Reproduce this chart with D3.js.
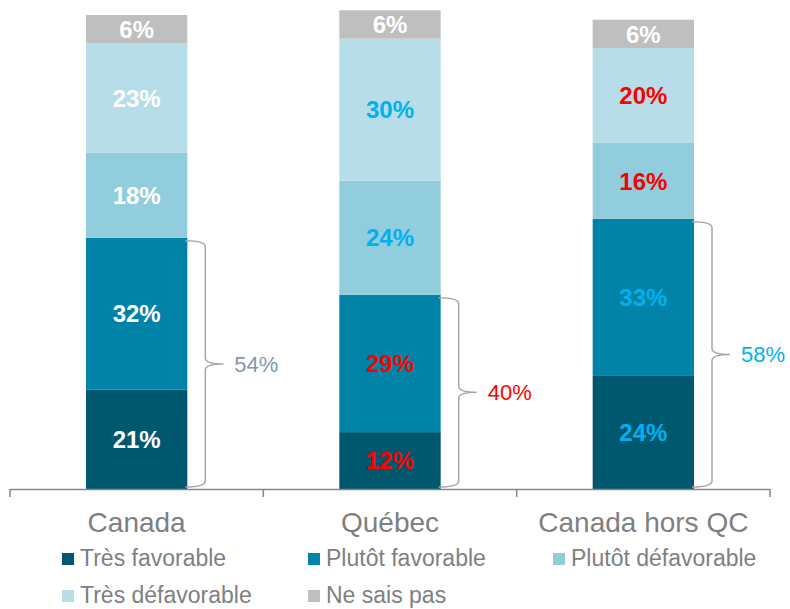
<!DOCTYPE html>
<html>
<head>
<meta charset="utf-8">
<script src="https://cdn.jsdelivr.net/npm/d3@7"></script>
<style>
  body { margin: 0; background: #fff; }
  text { font-family: "Liberation Sans", Arial, sans-serif; }
</style>
</head>
<body>
<div id="chart"></div>
<script>
// Data
var categories = ["Canada", "Québec", "Canada hors QC"];
var seriesNames = ["Très favorable", "Plutôt favorable", "Plutôt défavorable", "Très défavorable", "Ne sais pas"];
var seriesColors = ["#00586f", "#0083a6", "#92cddd", "#b7dee8", "#bfbfbf"];
var tresFavorable = [21, 12, 24];
var plutotFavorable = [32, 29, 33];
var plutotDefavorable = [18, 24, 16];
var tresDefavorable = [23, 30, 20];
var neSaisPas = [6, 6, 6];
var netFavorable = [54, 40, 58];
var netColors = ["#8497b0", "#ff0000", "#00b0f0"];
// label colours per category, per series
var labelColors = [
  ["#fff", "#fff", "#fff", "#fff", "#fff"],
  ["#ff0000", "#ff0000", "#00b0f0", "#00b0f0", "#fff"],
  ["#00b0f0", "#00b0f0", "#ff0000", "#ff0000", "#fff"]
];

var W = 790, H = 609;
var svg = d3.select("#chart").append("svg")
  .attr("width", W)
  .attr("height", H);

var x = d3.scaleBand()
  .domain(categories)
  .range([10, 770])
  .paddingInner(0.6)
  .paddingOuter(0.3);

var y = d3.scaleLinear()
  .domain([0, 100])
  .range([489, 15]);

// Build stacked rows
var rows = categories.map(function (c, i) {
  return {
    cat: c,
    "Très favorable": tresFavorable[i],
    "Plutôt favorable": plutotFavorable[i],
    "Plutôt défavorable": plutotDefavorable[i],
    "Très défavorable": tresDefavorable[i],
    "Ne sais pas": neSaisPas[i]
  };
});
var stacked = d3.stack().keys(seriesNames)(rows);

var layer = svg.append("g").selectAll("g")
  .data(stacked)
  .enter().append("g")
  .attr("fill", function (d, i) { return seriesColors[i]; });

layer.selectAll("rect")
  .data(function (d) { return d; })
  .enter().append("rect")
  .attr("x", function (d) { return x(d.data.cat); })
  .attr("y", function (d) { return y(d[1]); })
  .attr("width", x.bandwidth())
  .attr("height", function (d) { return y(d[0]) - y(d[1]); });

// Segment labels
stacked.forEach(function (s, si) {
  svg.append("g").selectAll("text")
    .data(s)
    .enter().append("text")
    .attr("x", function (d) { return x(d.data.cat) + x.bandwidth() / 2; })
    .attr("y", function (d) { return (y(d[0]) + y(d[1])) / 2; })
    .attr("dy", "0.36em")
    .attr("text-anchor", "middle")
    .style("font-size", "24px")
    .style("font-weight", "bold")
    .style("fill", function (d, ci) { return labelColors[ci][si]; })
    .text(function (d) { return (d[1] - d[0]) + "%"; });
});

// Axis line with tick marks at band boundaries
var step = x.step();
var edges = d3.range(categories.length + 1).map(function (i) { return 10 + i * step; });
svg.append("line")
  .attr("x1", 10).attr("x2", 770)
  .attr("y1", 489.5).attr("y2", 489.5)
  .style("stroke", "#868686")
  .style("stroke-width", 1.5);
svg.append("g").selectAll("line")
  .data(edges)
  .enter().append("line")
  .attr("x1", function (d) { return d; })
  .attr("x2", function (d) { return d; })
  .attr("y1", 489).attr("y2", 497)
  .style("stroke", "#868686")
  .style("stroke-width", 1.5);

// Category labels
svg.append("g").selectAll("text")
  .data(categories)
  .enter().append("text")
  .attr("x", function (d) { return x(d) + x.bandwidth() / 2; })
  .attr("y", 532)
  .attr("text-anchor", "middle")
  .style("font-size", "28px")
  .style("fill", "#7f7f7f")
  .text(function (d) { return d; });

// Curly braces for favourable total
function bracePath(x0, top, bottom, w, tip) {
  var xm = x0 + w;
  var mid = (top + bottom) / 2;
  var r = 6;
  return "M" + x0 + "," + top +
    " Q" + xm + "," + top + " " + xm + "," + (top + r) +
    " L" + xm + "," + (mid - r) +
    " Q" + xm + "," + mid + " " + (xm + tip) + "," + mid +
    " Q" + xm + "," + mid + " " + xm + "," + (mid + r) +
    " L" + xm + "," + (bottom - r) +
    " Q" + xm + "," + bottom + " " + x0 + "," + bottom;
}

categories.forEach(function (c, i) {
  var x0 = x(c) + x.bandwidth();
  var top = y(tresFavorable[i] + plutotFavorable[i]) + 3;
  var bottom = y(0) - 2;
  var mid = (top + bottom) / 2;
  svg.append("path")
    .attr("d", bracePath(x0 - 2, top, bottom, 20, 18))
    .style("fill", "none")
    .style("stroke", "#a6a6a6")
    .style("stroke-width", 1.5);
  svg.append("text")
    .attr("x", x0 + 47)
    .attr("y", mid)
    .attr("dy", "0.36em")
    .style("font-size", "22px")
    .style("fill", netColors[i])
    .text(netFavorable[i] + "%");
});

// Legend
var legendPos = [[62, 566], [308, 566], [553, 566], [62, 603], [308, 603]];
var legend = svg.append("g").selectAll("g")
  .data(seriesNames)
  .enter().append("g")
  .attr("transform", function (d, i) { return "translate(" + legendPos[i][0] + "," + legendPos[i][1] + ")"; });
legend.append("rect")
  .attr("x", 0).attr("y", -13)
  .attr("width", 12).attr("height", 12)
  .attr("fill", function (d, i) { return seriesColors[i]; });
legend.append("text")
  .attr("x", 18).attr("y", 0)
  .style("font-size", "23px")
  .style("fill", "#7f7f7f")
  .text(function (d) { return d; });
</script>
</body>
</html>
